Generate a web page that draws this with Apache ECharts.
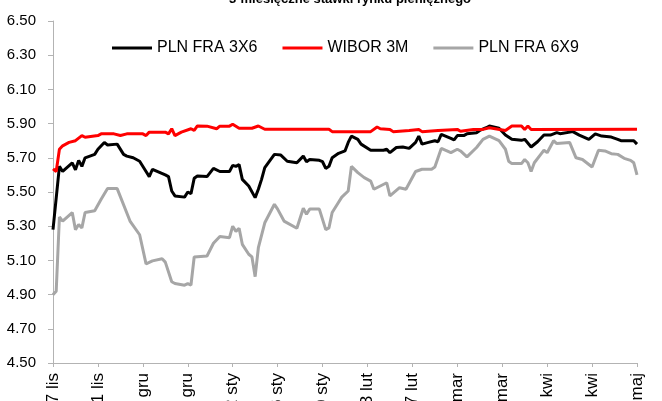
<!DOCTYPE html>
<html>
<head>
<meta charset="utf-8">
<script src="https://cdn.jsdelivr.net/npm/echarts@6/dist/echarts.min.js"></script>
<style>
html,body{margin:0;padding:0;background:#fff;}
#chart{width:662px;height:401px;}
</style>
</head>
<body>
<div id="chart"></div>
<script>
// x = calendar day offset from 07 lis
var tickLabels = ["07 lis","21 lis","05 gru","19 gru","02 sty","16 sty","30 sty","13 lut","27 lut","13 mar","27 mar","10 kwi","24 kwi","08 maj"];
var titleText = "3-miesięczne stawki rynku pieniężnego";
var seriesNames = ["PLN FRA 3X6","WIBOR 3M","PLN FRA 6X9"];

var fra3x6 = [[0,5.28],[2,5.65],[3,5.62],[6,5.67],[7,5.63],[8,5.685],[9,5.65],[10,5.70],[13,5.72],[14,5.75],[16,5.79],[17,5.775],[20,5.78],[22,5.72],[23,5.71],[25,5.70],[27,5.68],[29,5.62],[30,5.59],[31,5.633],[35,5.60],[36,5.59],[37,5.506],[38,5.477],[41,5.47],[42,5.50],[43,5.49],[44,5.58],[45,5.594],[48,5.59],[50,5.638],[52,5.62],[55,5.62],[56,5.656],[57,5.65],[58,5.66],[59,5.574],[61,5.535],[63,5.467],[64,5.516],[65,5.574],[66,5.642],[69,5.72],[71,5.716],[73,5.68],[76,5.671],[78,5.71],[79,5.677],[80,5.69],[83,5.685],[84,5.677],[85,5.638],[86,5.65],[87,5.70],[89,5.726],[91,5.74],[92,5.79],[93,5.827],[95,5.808],[96,5.78],[99,5.744],[103,5.744],[104,5.75],[105,5.73],[107,5.76],[109,5.763],[111,5.755],[113,5.79],[114,5.827],[115,5.78],[117,5.79],[119,5.80],[120,5.794],[121,5.837],[124,5.814],[125,5.805],[126,5.83],[128,5.83],[129,5.84],[132,5.847],[133,5.86],[135,5.876],[136,5.886],[139,5.873],[141,5.833],[143,5.808],[146,5.802],[147,5.808],[149,5.763],[151,5.794],[153,5.833],[155,5.833],[157,5.847],[158,5.841],[162,5.853],[164,5.833],[167,5.808],[169,5.84],[171,5.827],[174,5.821],[176,5.808],[177,5.80],[181,5.80],[182,5.78]];

var wibor3m = [[0,5.635],[1,5.62],[2,5.75],[3,5.77],[5,5.79],[7,5.80],[9,5.83],[10,5.82],[14,5.83],[15,5.84],[19,5.84],[21,5.83],[23,5.84],[28,5.84],[29,5.83],[30,5.85],[35,5.85],[36,5.84],[37,5.87],[38,5.83],[40,5.85],[43,5.87],[44,5.86],[45,5.886],[48,5.885],[51,5.87],[52,5.885],[55,5.885],[56,5.896],[58,5.873],[62,5.873],[64,5.886],[66,5.867],[86,5.867],[87,5.853],[99,5.853],[101,5.88],[102,5.87],[105,5.866],[106,5.853],[111,5.86],[114,5.866],[115,5.853],[120,5.86],[126,5.866],[127,5.855],[131,5.866],[134,5.866],[136,5.876],[141,5.86],[143,5.886],[146,5.886],[147,5.866],[148,5.886],[149,5.866],[182,5.867]];

var fra6x9 = [[0,4.90],[1,4.92],[2,5.354],[3,5.33],[6,5.38],[7,5.28],[8,5.31],[9,5.29],[10,5.38],[13,5.39],[15,5.457],[17,5.52],[20,5.52],[24,5.33],[27,5.25],[29,5.08],[31,5.097],[34,5.11],[35,5.09],[37,4.975],[38,4.965],[41,4.955],[42,4.964],[43,4.956],[44,5.12],[48,5.126],[50,5.20],[52,5.24],[55,5.233],[56,5.30],[57,5.27],[58,5.288],[59,5.194],[61,5.136],[62,5.12],[63,5.005],[64,5.174],[66,5.32],[69,5.428],[70,5.40],[72,5.33],[76,5.288],[78,5.405],[79,5.37],[80,5.40],[83,5.40],[85,5.28],[86,5.29],[87,5.38],[89,5.44],[90,5.47],[92,5.506],[93,5.65],[95,5.613],[97,5.584],[99,5.564],[100,5.516],[104,5.554],[105,5.477],[108,5.525],[110,5.516],[113,5.62],[115,5.633],[118,5.633],[119,5.646],[121,5.755],[124,5.73],[126,5.75],[127,5.74],[129,5.705],[132,5.76],[134,5.808],[136,5.827],[139,5.80],[141,5.75],[142,5.68],[143,5.666],[146,5.666],[147,5.69],[148,5.671],[149,5.62],[150,5.671],[152,5.72],[153,5.744],[154,5.73],[156,5.80],[157,5.783],[161,5.79],[163,5.70],[165,5.69],[168,5.646],[170,5.744],[172,5.74],[174,5.724],[176,5.72],[178,5.697],[180,5.685],[181,5.671],[182,5.60]];

var colors = ["#000000","#ff0000","#a6a6a6"];
var FONT = "'Liberation Sans', Arial, sans-serif";

var chart = echarts.init(document.getElementById('chart'), null, {renderer:'canvas'});
chart.setOption({
  animation: false,
  backgroundColor: '#ffffff',
  title: {
    text: titleText,
    left: 350, textAlign: 'center',
    top: -7, padding: 0,
    textStyle: {fontFamily: FONT, fontSize: 13, fontWeight: 'bold', color: '#000'}
  },
  legend: {
    left: 112, top: 40, padding: 0,
    itemWidth: 40, itemHeight: 3, itemGap: 25,
    icon: 'rect',
    textStyle: {fontFamily: FONT, fontSize: 16, color: '#000', padding: [0,0,0,0]},
    data: seriesNames
  },
  grid: {left: 53, right: 25, top: 21, bottom: 38, containLabel: false, outerBoundsMode: 'none'},
  xAxis: {
    type: 'value', min: 0, max: 182, interval: 14,
    axisLine: {show: true, lineStyle: {color: '#b3b3b3', width: 1}},
    axisTick: {show: true, length: 4, lineStyle: {color: '#b3b3b3'}},
    splitLine: {show: false},
    axisLabel: {
      rotate: 90, margin: 10, fontFamily: FONT, fontSize: 17, color: '#000',
      showMinLabel: true, showMaxLabel: true,
      formatter: function (v) { return tickLabels[Math.round(v / 14)] || ''; }
    }
  },
  yAxis: {
    type: 'value', min: 4.5, max: 6.5, interval: 0.2,
    axisLine: {show: true, lineStyle: {color: '#b3b3b3', width: 1}},
    axisTick: {show: true, length: 5, lineStyle: {color: '#b3b3b3'}},
    splitLine: {show: false},
    axisLabel: {
      margin: 17, fontFamily: FONT, fontSize: 15, color: '#000',
      formatter: function (v) { return v.toFixed(2); }
    }
  },
  series: [
    {name: seriesNames[0], type: 'line', data: fra3x6, showSymbol: false, color: colors[0], lineStyle: {width: 3, color: colors[0]}},
    {name: seriesNames[1], type: 'line', data: wibor3m, showSymbol: false, color: colors[1], lineStyle: {width: 3, color: colors[1]}},
    {name: seriesNames[2], type: 'line', data: fra6x9, showSymbol: false, color: colors[2], lineStyle: {width: 3, color: colors[2]}}
  ]
});
</script>
</body>
</html>
